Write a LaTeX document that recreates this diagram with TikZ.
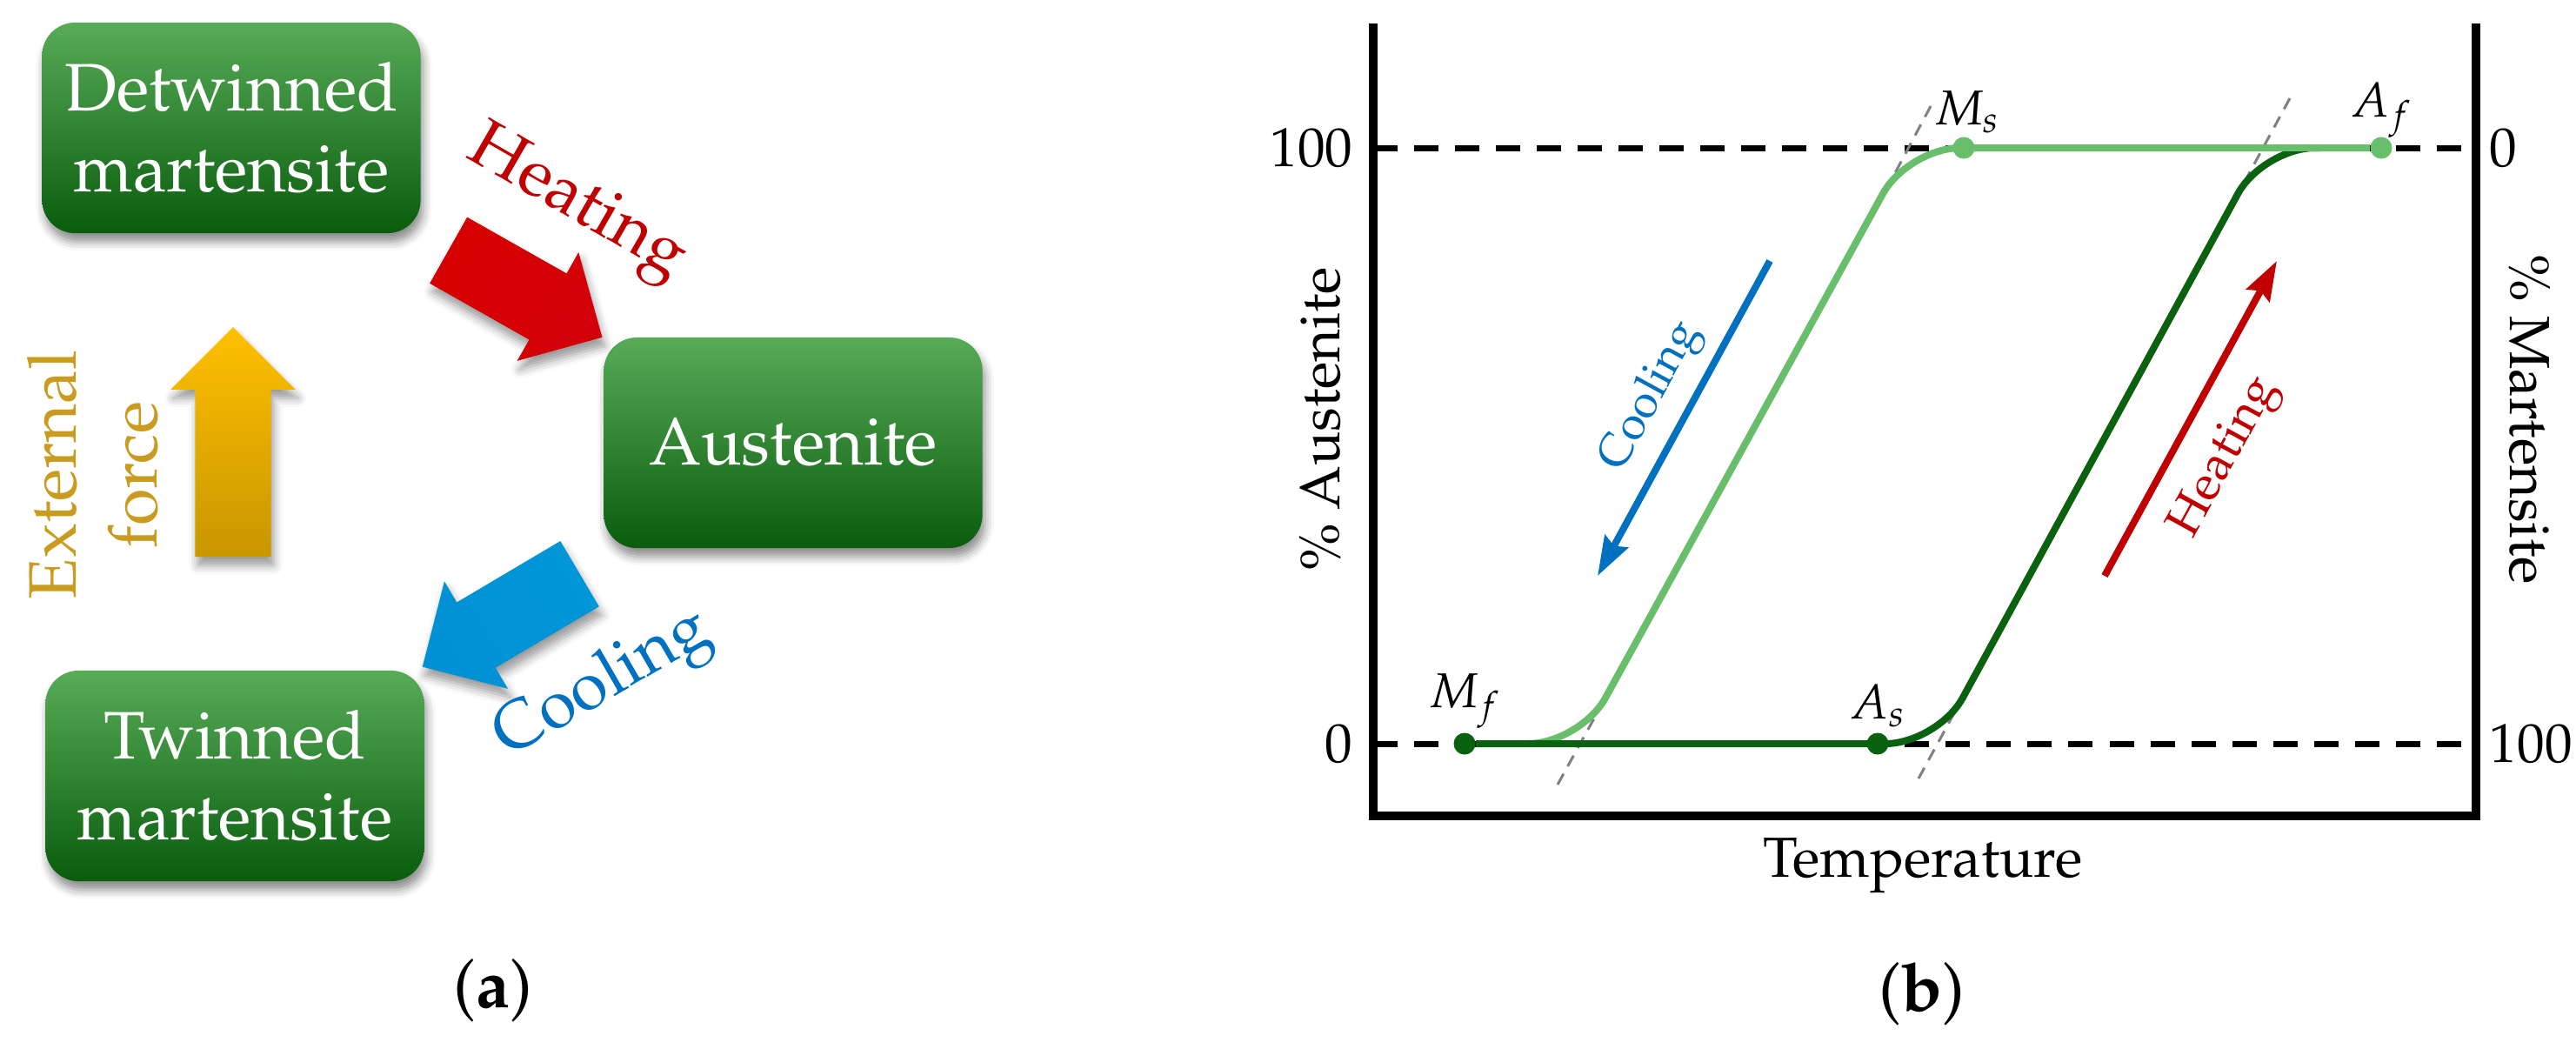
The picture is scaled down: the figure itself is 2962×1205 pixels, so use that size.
\documentclass[tikz,border=0pt]{standalone}
\usepackage[T1]{fontenc}
\usepackage{mathpazo}
\usetikzlibrary{positioning,shapes.arrows,shadows.blur,arrows.meta}

\definecolor{boxtop}{RGB}{88,172,88}
\definecolor{boxbot}{RGB}{8,92,12}
\definecolor{heatred}{RGB}{192,0,0}
\definecolor{coolblue}{RGB}{0,112,192}
\definecolor{forcegold}{RGB}{201,155,30}
\definecolor{lightgr}{RGB}{104,190,106}
\definecolor{darkgr}{RGB}{10,98,16}

\newcommand*\phasefont{\fontsize{22}{26.5}\selectfont}
\newcommand*\plotfont{\fontsize{18}{21}\selectfont}
\newcommand*\axfont{\fontsize{18.5}{22}\selectfont}
\newcommand*\ptfont{\fontsize{16}{19}\selectfont}
\newcommand*\trendfont{\fontsize{15}{18}\selectfont}

\begin{document}
\begin{tikzpicture}[x=0.01cm, y=-0.01cm,
    phase/.style={rectangle, rounded corners=0.38cm,
      minimum width=4.35cm, minimum height=2.42cm,
      top color=boxtop, bottom color=boxbot,
      text=white, align=center, font=\phasefont,
      blur shadow={shadow xshift=0.03cm, shadow yshift=-0.1cm,
        shadow blur radius=0.1cm, shadow opacity=45}},
    fatarrow/.style={single arrow, inner xsep=0pt, inner ysep=0.43cm,
      single arrow head extend=0.28cm,
      blur shadow={shadow xshift=0.03cm, shadow yshift=-0.1cm,
        shadow blur radius=0.1cm, shadow opacity=40}},
    trans/.style={line width=0.08cm, rounded corners=0.6cm},
    dashlevel/.style={line width=0.07cm, dash pattern=on 0.28cm off 0.19cm},
    tanline/.style={gray, line width=0.03cm, dash pattern=on 0.14cm off 0.1cm},
    tdot/.style={circle, inner sep=0pt, minimum size=0.25cm},
    ptlab/.style={font=\ptfont, inner sep=1pt},
    ticklab/.style={font=\plotfont, inner sep=0pt},
    trendarrow/.style={line width=0.08cm,
      -{Stealth[length=0.45cm, width=0.3cm, inset=0.06cm]}}
  ]
\useasboundingbox (0,0) rectangle (2962,1205);

% (a) phases
\node[phase] (detw) at (266,147) {Detwinned\\martensite};
\node[phase] (aust) at (912,509) {Austenite};
\node[phase] (twin) at (270,892) {Twinned\\martensite};

% (a) transformations
\node[fatarrow, minimum height=2.03cm, rotate=-29.5,
  left color={rgb,255:red,215;green,0;blue,0}, middle color=red,
  right color={rgb,255:red,210;green,0;blue,8}, shading angle=60.5]
  (heatarrow) at (585,327) {};
\node[fatarrow, minimum height=2.1cm, rotate=-149.4,
  left color={rgb,255:red,0;green,150;blue,215}, middle color={rgb,255:red,0;green,176;blue,240},
  right color={rgb,255:red,0;green,145;blue,212}, shading angle=-59.4]
  (coolarrow) at (595,702) {};
\node[fatarrow, minimum height=2.64cm, rotate=90,
  left color={rgb,255:red,200;green,150;blue,0}, middle color={rgb,255:red,255;green,192;blue,0},
  right color={rgb,255:red,255;green,192;blue,0}, shading angle=180]
  (forcearrow) at (268,530) {};

\node[font=\phasefont, text=heatred, rotate=-30] (heatlab) at (662,236) {Heating};
\node[font=\phasefont, text=coolblue, rotate=30] (coollab) at (694,788) {Cooling};
\node[font=\phasefont, text=forcegold, rotate=90, align=center] (forcelab) at (107,546) {External\\force};

\node[font=\phasefont] (capa) at (567,1139) {(\textbf{a})};

% (b) frame and levels
\coordinate (axtl) at (1579,27);
\coordinate (axbl) at (1579,938);
\coordinate (axbr) at (2847,938);
\coordinate (axtr) at (2847,27);
\coordinate (hundl) at (1579,170);
\coordinate (hundr) at (2847,170);
\coordinate (zerol) at (1579,855);
\coordinate (zeror) at (2847,855);

\draw[dashlevel] (hundl) -- (hundr);
\draw[dashlevel] (zerol) -- (zeror);
\draw[line width=0.1cm] (axtl) -- (axbl) -- (axbr) -- (axtr);

\node[ticklab, anchor=east] (lhund) at (1556,170) {100};
\node[ticklab, anchor=east] (lzero) at (1556,855) {0};
\node[ticklab, anchor=west] (rzero) at (2862,170) {0};
\node[ticklab, anchor=west] (rhund) at (2862,855) {100};
\node[font=\axfont, rotate=90] (austax) at (1519,482) {\% Austenite};
\node[font=\axfont, rotate=-90] (martax) at (2908,482) {\% Martensite};
\node[font=\axfont] (tempax) at (2211,995) {Temperature};
\node[font=\phasefont] (capb) at (2210,1143) {(\textbf{b})};

% (b) tangents
\coordinate (ltana) at (1791,902);
\coordinate (ltanb) at (1834,824);
\coordinate (ltanc) at (2220,122);
\coordinate (ltand) at (2172,212);
\coordinate (dtana) at (2206,895);
\coordinate (dtanb) at (2248,818);
\coordinate (dtanc) at (2633,113);
\coordinate (dtand) at (2582,207);
\draw[tanline] (ltana) -- (ltanb);
\draw[tanline] (ltanc) -- (ltand);
\draw[tanline] (dtana) -- (dtanb);
\draw[tanline] (dtanc) -- (dtand);

% (b) transformation curves
\coordinate (lstart) at (1757,855);
\coordinate (lbend) at (1817,855);
\coordinate (ltop) at (2194,170);
\coordinate (dbend) at (2228,855);
\coordinate (dtop) at (2602,170);
\coordinate (dend) at (2668,170);
\coordinate (lrest) at (2560,170);

\node[tdot, fill=darkgr] (mf) at (1684,855) {};
\node[tdot, fill=darkgr] (as) at (2159,855) {};
\node[tdot, fill=lightgr] (ms) at (2258,170) {};
\node[tdot, fill=lightgr] (af) at (2738,170) {};

\draw[trans, lightgr] (lstart) -- (lbend) -- (ltop) -- (af);
\draw[trans, darkgr] (mf) -- (dbend) -- (dtop) -- (dend);
\draw[trans, lightgr] (lrest) -- (af);

\node[ptlab, above=0pt of mf] (mflab) {$M_f$};
\node[ptlab, above=0.02cm of as] (aslab) {$A_s$};
\node[ptlab, above=0pt of ms, xshift=0.04cm] (mslab) {$M_s$};
\node[ptlab, above=-0.06cm of af] (aflab) {$A_f$};

% (b) cooling and heating
\coordinate (cfrom) at (2035,300);
\coordinate (cto) at (1837,662);
\coordinate (hfrom) at (2420,662);
\coordinate (hto) at (2618,300);
\draw[trendarrow, coolblue] (cfrom) -- node[pos=0.49, sloped, above, inner sep=0.14cm, font=\trendfont] (coolb) {Cooling} (cto);
\draw[trendarrow, heatred] (hfrom) -- node[pos=0.45, sloped, below, inner sep=0.26cm, font=\fontsize{16}{19}\selectfont] (heatb) {Heating} (hto);

\end{tikzpicture}
\end{document}
